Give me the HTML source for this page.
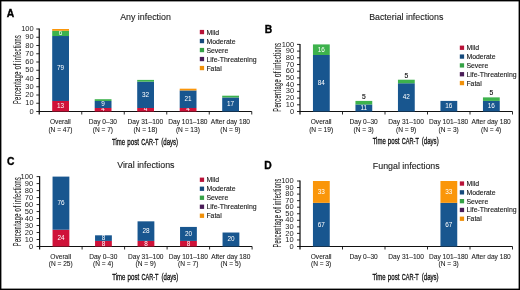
<!DOCTYPE html>
<html><head><meta charset="utf-8"><style>
html,body{margin:0;padding:0;background:#fff;}
body{width:520px;height:290px;overflow:hidden;position:relative;}
svg{position:absolute;left:0;top:0;display:block;font-family:"Liberation Sans", sans-serif;filter:blur(0.3px);}
</style></head><body>
<svg width="520" height="290" viewBox="0 0 520 290">
<rect x="0" y="0" width="520" height="290" fill="#fff"/>
<text x="6.80" y="16.60" font-size="10.3" text-anchor="start" fill="#000" font-weight="bold" stroke="#000" stroke-width="0.35">A</text>
<text x="145.50" y="20.00" font-size="8.85" text-anchor="middle" fill="#1a1a1a" font-weight="normal" stroke="#1a1a1a" stroke-width="0.1">Any infection</text>
<g transform="translate(20.50,69.85) rotate(-90)" font-size="11.0" fill="#222" stroke="#222" stroke-width="0.12"><text x="-34.20" y="0" letter-spacing="0.8" textLength="32.90" lengthAdjust="spacingAndGlyphs">Percentage</text><text x="0.30" y="0" letter-spacing="0.8" textLength="6.40" lengthAdjust="spacingAndGlyphs">of</text><text x="8.10" y="0" letter-spacing="0.8" textLength="26.90" lengthAdjust="spacingAndGlyphs">infections</text></g>
<line x1="36.25" y1="111.50" x2="39.25" y2="111.50" stroke="#111" stroke-width="0.9"/>
<text x="33.65" y="113.60" font-size="7.5" text-anchor="end" fill="#222" font-weight="normal" >0</text>
<line x1="36.25" y1="103.25" x2="39.25" y2="103.25" stroke="#111" stroke-width="0.9"/>
<text x="33.65" y="105.35" font-size="7.5" text-anchor="end" fill="#222" font-weight="normal" >10</text>
<line x1="36.25" y1="95.00" x2="39.25" y2="95.00" stroke="#111" stroke-width="0.9"/>
<text x="33.65" y="97.10" font-size="7.5" text-anchor="end" fill="#222" font-weight="normal" >20</text>
<line x1="36.25" y1="86.75" x2="39.25" y2="86.75" stroke="#111" stroke-width="0.9"/>
<text x="33.65" y="88.85" font-size="7.5" text-anchor="end" fill="#222" font-weight="normal" >30</text>
<line x1="36.25" y1="78.50" x2="39.25" y2="78.50" stroke="#111" stroke-width="0.9"/>
<text x="33.65" y="80.60" font-size="7.5" text-anchor="end" fill="#222" font-weight="normal" >40</text>
<line x1="36.25" y1="70.25" x2="39.25" y2="70.25" stroke="#111" stroke-width="0.9"/>
<text x="33.65" y="72.35" font-size="7.5" text-anchor="end" fill="#222" font-weight="normal" >50</text>
<line x1="36.25" y1="62.00" x2="39.25" y2="62.00" stroke="#111" stroke-width="0.9"/>
<text x="33.65" y="64.10" font-size="7.5" text-anchor="end" fill="#222" font-weight="normal" >60</text>
<line x1="36.25" y1="53.75" x2="39.25" y2="53.75" stroke="#111" stroke-width="0.9"/>
<text x="33.65" y="55.85" font-size="7.5" text-anchor="end" fill="#222" font-weight="normal" >70</text>
<line x1="36.25" y1="45.50" x2="39.25" y2="45.50" stroke="#111" stroke-width="0.9"/>
<text x="33.65" y="47.60" font-size="7.5" text-anchor="end" fill="#222" font-weight="normal" >80</text>
<line x1="36.25" y1="37.25" x2="39.25" y2="37.25" stroke="#111" stroke-width="0.9"/>
<text x="33.65" y="39.35" font-size="7.5" text-anchor="end" fill="#222" font-weight="normal" >90</text>
<line x1="36.25" y1="29.00" x2="39.25" y2="29.00" stroke="#111" stroke-width="0.9"/>
<text x="33.65" y="31.10" font-size="7.5" text-anchor="end" fill="#222" font-weight="normal" >100</text>
<line x1="39.25" y1="28.60" x2="39.25" y2="114.50" stroke="#111" stroke-width="1.25"/>
<line x1="38.75" y1="111.50" x2="251.75" y2="111.50" stroke="#111" stroke-width="1.15"/>
<line x1="81.75" y1="111.50" x2="81.75" y2="114.50" stroke="#111" stroke-width="0.9"/>
<line x1="124.25" y1="111.50" x2="124.25" y2="114.50" stroke="#111" stroke-width="0.9"/>
<line x1="166.75" y1="111.50" x2="166.75" y2="114.50" stroke="#111" stroke-width="0.9"/>
<line x1="209.25" y1="111.50" x2="209.25" y2="114.50" stroke="#111" stroke-width="0.9"/>
<line x1="251.75" y1="111.50" x2="251.75" y2="114.50" stroke="#111" stroke-width="0.9"/>
<rect x="52.20" y="100.97" width="16.8" height="10.53" fill="#cf1239"/>
<text x="60.60" y="108.18" font-size="6.4" text-anchor="middle" fill="#fff" font-weight="normal" >13</text>
<rect x="52.20" y="36.02" width="16.8" height="64.95" fill="#18568f"/>
<text x="60.60" y="70.44" font-size="6.4" text-anchor="middle" fill="#fff" font-weight="normal" >79</text>
<rect x="52.20" y="30.76" width="16.8" height="5.27" fill="#3db24c"/>
<text x="60.60" y="35.34" font-size="6.4" text-anchor="middle" fill="#fff" font-weight="normal" >6</text>
<rect x="52.20" y="29.00" width="16.8" height="1.76" fill="#fa960a"/>
<text x="60.40" y="124.00" font-size="6.6" text-anchor="middle" fill="#1c1c1c" font-weight="normal" stroke="#1c1c1c" stroke-width="0.08">Overall</text>
<text x="60.40" y="131.60" font-size="6.6" text-anchor="middle" fill="#111" font-weight="normal" stroke="#111" stroke-width="0.06">(N = 47)</text>
<rect x="94.70" y="107.99" width="16.8" height="3.51" fill="#cf1239"/>
<text x="103.10" y="110.89" font-size="6.4" text-anchor="middle" fill="#fff" font-weight="normal" >4</text>
<rect x="94.70" y="100.97" width="16.8" height="7.02" fill="#18568f"/>
<text x="103.10" y="106.43" font-size="6.4" text-anchor="middle" fill="#fff" font-weight="normal" >9</text>
<rect x="94.70" y="99.21" width="16.8" height="1.76" fill="#3db24c"/>
<text x="102.90" y="124.00" font-size="6.6" text-anchor="middle" fill="#1c1c1c" font-weight="normal" stroke="#1c1c1c" stroke-width="0.08">Day 0–30</text>
<text x="102.90" y="131.60" font-size="6.6" text-anchor="middle" fill="#111" font-weight="normal" stroke="#111" stroke-width="0.06">(N = 7)</text>
<rect x="137.20" y="107.99" width="16.8" height="3.51" fill="#cf1239"/>
<text x="145.60" y="110.89" font-size="6.4" text-anchor="middle" fill="#fff" font-weight="normal" >4</text>
<rect x="137.20" y="81.66" width="16.8" height="26.33" fill="#18568f"/>
<text x="145.60" y="96.77" font-size="6.4" text-anchor="middle" fill="#fff" font-weight="normal" >32</text>
<rect x="137.20" y="79.90" width="16.8" height="1.76" fill="#3db24c"/>
<text x="145.40" y="124.00" font-size="6.6" text-anchor="middle" fill="#1c1c1c" font-weight="normal" stroke="#1c1c1c" stroke-width="0.08">Day 31–100</text>
<text x="145.40" y="131.60" font-size="6.6" text-anchor="middle" fill="#111" font-weight="normal" stroke="#111" stroke-width="0.06">(N = 18)</text>
<rect x="179.70" y="107.99" width="16.8" height="3.51" fill="#cf1239"/>
<text x="188.10" y="110.89" font-size="6.4" text-anchor="middle" fill="#fff" font-weight="normal" >4</text>
<rect x="179.70" y="90.44" width="16.8" height="17.55" fill="#18568f"/>
<text x="188.10" y="101.16" font-size="6.4" text-anchor="middle" fill="#fff" font-weight="normal" >21</text>
<rect x="179.70" y="88.68" width="16.8" height="1.76" fill="#fa960a"/>
<text x="187.90" y="124.00" font-size="6.6" text-anchor="middle" fill="#1c1c1c" font-weight="normal" stroke="#1c1c1c" stroke-width="0.08">Day 101–180</text>
<text x="187.90" y="131.60" font-size="6.6" text-anchor="middle" fill="#111" font-weight="normal" stroke="#111" stroke-width="0.06">(N = 13)</text>
<rect x="222.20" y="97.46" width="16.8" height="14.04" fill="#18568f"/>
<text x="230.60" y="106.43" font-size="6.4" text-anchor="middle" fill="#fff" font-weight="normal" >17</text>
<rect x="222.20" y="95.70" width="16.8" height="1.76" fill="#3db24c"/>
<text x="230.40" y="124.00" font-size="6.6" text-anchor="middle" fill="#1c1c1c" font-weight="normal" stroke="#1c1c1c" stroke-width="0.08">After day 180</text>
<text x="230.40" y="131.60" font-size="6.6" text-anchor="middle" fill="#111" font-weight="normal" stroke="#111" stroke-width="0.06">(N = 9)</text>
<g font-size="9.6" fill="#111" stroke="#111" stroke-width="0.32"><text x="112.10" y="144.65" textLength="13.10" lengthAdjust="spacingAndGlyphs">Time</text><text x="127.30" y="144.65" textLength="11.70" lengthAdjust="spacingAndGlyphs">post</text><text x="141.30" y="144.65" textLength="17.00" lengthAdjust="spacingAndGlyphs">CAR-T</text><text x="161.30" y="144.65" textLength="16.80" lengthAdjust="spacingAndGlyphs">(days)</text></g>
<rect x="199.80" y="29.90" width="4.3" height="4.3" fill="#b81238"/>
<text x="206.40" y="34.50" font-size="6.9" text-anchor="start" fill="#1a1a1a" font-weight="normal" stroke="#1a1a1a" stroke-width="0.12">Mild</text>
<rect x="199.80" y="38.90" width="4.3" height="4.3" fill="#154a7c"/>
<text x="206.40" y="43.50" font-size="6.9" text-anchor="start" fill="#1a1a1a" font-weight="normal" stroke="#1a1a1a" stroke-width="0.12">Moderate</text>
<rect x="199.80" y="47.90" width="4.3" height="4.3" fill="#35a246"/>
<text x="206.40" y="52.50" font-size="6.9" text-anchor="start" fill="#1a1a1a" font-weight="normal" stroke="#1a1a1a" stroke-width="0.12">Severe</text>
<rect x="199.80" y="56.90" width="4.3" height="4.3" fill="#4a1c58"/>
<text x="206.40" y="61.50" font-size="6.9" text-anchor="start" fill="#1a1a1a" font-weight="normal" stroke="#1a1a1a" stroke-width="0.12">Life-Threatening</text>
<rect x="199.80" y="65.90" width="4.3" height="4.3" fill="#f0900a"/>
<text x="206.40" y="70.50" font-size="6.9" text-anchor="start" fill="#1a1a1a" font-weight="normal" stroke="#1a1a1a" stroke-width="0.12">Fatal</text>
<text x="264.80" y="32.50" font-size="10.3" text-anchor="start" fill="#000" font-weight="bold" stroke="#000" stroke-width="0.35">B</text>
<text x="406.25" y="20.20" font-size="8.85" text-anchor="middle" fill="#1a1a1a" font-weight="normal" stroke="#1a1a1a" stroke-width="0.1">Bacterial infections</text>
<g transform="translate(281.00,77.55) rotate(-90)" font-size="11.0" fill="#222" stroke="#222" stroke-width="0.12"><text x="-34.20" y="0" letter-spacing="0.8" textLength="32.90" lengthAdjust="spacingAndGlyphs">Percentage</text><text x="0.30" y="0" letter-spacing="0.8" textLength="6.40" lengthAdjust="spacingAndGlyphs">of</text><text x="8.10" y="0" letter-spacing="0.8" textLength="26.90" lengthAdjust="spacingAndGlyphs">infections</text></g>
<line x1="297.00" y1="111.50" x2="300.00" y2="111.50" stroke="#111" stroke-width="0.9"/>
<text x="294.20" y="113.60" font-size="7.5" text-anchor="end" fill="#222" font-weight="normal" >0</text>
<line x1="297.00" y1="104.79" x2="300.00" y2="104.79" stroke="#111" stroke-width="0.9"/>
<text x="294.20" y="106.89" font-size="7.5" text-anchor="end" fill="#222" font-weight="normal" >10</text>
<line x1="297.00" y1="98.08" x2="300.00" y2="98.08" stroke="#111" stroke-width="0.9"/>
<text x="294.20" y="100.18" font-size="7.5" text-anchor="end" fill="#222" font-weight="normal" >20</text>
<line x1="297.00" y1="91.37" x2="300.00" y2="91.37" stroke="#111" stroke-width="0.9"/>
<text x="294.20" y="93.47" font-size="7.5" text-anchor="end" fill="#222" font-weight="normal" >30</text>
<line x1="297.00" y1="84.66" x2="300.00" y2="84.66" stroke="#111" stroke-width="0.9"/>
<text x="294.20" y="86.76" font-size="7.5" text-anchor="end" fill="#222" font-weight="normal" >40</text>
<line x1="297.00" y1="77.95" x2="300.00" y2="77.95" stroke="#111" stroke-width="0.9"/>
<text x="294.20" y="80.05" font-size="7.5" text-anchor="end" fill="#222" font-weight="normal" >50</text>
<line x1="297.00" y1="71.24" x2="300.00" y2="71.24" stroke="#111" stroke-width="0.9"/>
<text x="294.20" y="73.34" font-size="7.5" text-anchor="end" fill="#222" font-weight="normal" >60</text>
<line x1="297.00" y1="64.53" x2="300.00" y2="64.53" stroke="#111" stroke-width="0.9"/>
<text x="294.20" y="66.63" font-size="7.5" text-anchor="end" fill="#222" font-weight="normal" >70</text>
<line x1="297.00" y1="57.82" x2="300.00" y2="57.82" stroke="#111" stroke-width="0.9"/>
<text x="294.20" y="59.92" font-size="7.5" text-anchor="end" fill="#222" font-weight="normal" >80</text>
<line x1="297.00" y1="51.11" x2="300.00" y2="51.11" stroke="#111" stroke-width="0.9"/>
<text x="294.20" y="53.21" font-size="7.5" text-anchor="end" fill="#222" font-weight="normal" >90</text>
<line x1="297.00" y1="44.40" x2="300.00" y2="44.40" stroke="#111" stroke-width="0.9"/>
<text x="294.20" y="46.50" font-size="7.5" text-anchor="end" fill="#222" font-weight="normal" >100</text>
<line x1="300.00" y1="44.00" x2="300.00" y2="114.50" stroke="#111" stroke-width="1.25"/>
<line x1="299.50" y1="111.50" x2="512.50" y2="111.50" stroke="#111" stroke-width="1.15"/>
<line x1="342.50" y1="111.50" x2="342.50" y2="114.50" stroke="#111" stroke-width="0.9"/>
<line x1="385.00" y1="111.50" x2="385.00" y2="114.50" stroke="#111" stroke-width="0.9"/>
<line x1="427.50" y1="111.50" x2="427.50" y2="114.50" stroke="#111" stroke-width="0.9"/>
<line x1="470.00" y1="111.50" x2="470.00" y2="114.50" stroke="#111" stroke-width="0.9"/>
<line x1="512.50" y1="111.50" x2="512.50" y2="114.50" stroke="#111" stroke-width="0.9"/>
<rect x="312.95" y="54.99" width="16.8" height="56.51" fill="#18568f"/>
<text x="321.35" y="85.20" font-size="6.4" text-anchor="middle" fill="#fff" font-weight="normal" >84</text>
<rect x="312.95" y="44.40" width="16.8" height="10.59" fill="#3db24c"/>
<text x="321.35" y="51.65" font-size="6.4" text-anchor="middle" fill="#fff" font-weight="normal" >16</text>
<text x="321.15" y="124.30" font-size="6.6" text-anchor="middle" fill="#1c1c1c" font-weight="normal" stroke="#1c1c1c" stroke-width="0.08">Overall</text>
<text x="321.15" y="131.80" font-size="6.6" text-anchor="middle" fill="#111" font-weight="normal" stroke="#111" stroke-width="0.06">(N = 19)</text>
<rect x="355.45" y="104.44" width="16.8" height="7.06" fill="#18568f"/>
<text x="363.85" y="109.92" font-size="6.4" text-anchor="middle" fill="#fff" font-weight="normal" >11</text>
<rect x="355.45" y="100.91" width="16.8" height="3.53" fill="#3db24c"/>
<text x="363.85" y="98.71" font-size="6.7" text-anchor="middle" fill="#111" font-weight="normal" stroke="#111" stroke-width="0.15">5</text>
<text x="363.65" y="124.30" font-size="6.6" text-anchor="middle" fill="#1c1c1c" font-weight="normal" stroke="#1c1c1c" stroke-width="0.08">Day 0–30</text>
<text x="363.65" y="131.80" font-size="6.6" text-anchor="middle" fill="#111" font-weight="normal" stroke="#111" stroke-width="0.06">(N = 3)</text>
<rect x="397.95" y="83.25" width="16.8" height="28.25" fill="#18568f"/>
<text x="406.35" y="99.32" font-size="6.4" text-anchor="middle" fill="#fff" font-weight="normal" >42</text>
<rect x="397.95" y="79.72" width="16.8" height="3.53" fill="#3db24c"/>
<text x="406.35" y="77.52" font-size="6.7" text-anchor="middle" fill="#111" font-weight="normal" stroke="#111" stroke-width="0.15">5</text>
<text x="406.15" y="124.30" font-size="6.6" text-anchor="middle" fill="#1c1c1c" font-weight="normal" stroke="#1c1c1c" stroke-width="0.08">Day 31–100</text>
<text x="406.15" y="131.80" font-size="6.6" text-anchor="middle" fill="#111" font-weight="normal" stroke="#111" stroke-width="0.06">(N = 9)</text>
<rect x="440.45" y="100.91" width="16.8" height="10.59" fill="#18568f"/>
<text x="448.85" y="108.15" font-size="6.4" text-anchor="middle" fill="#fff" font-weight="normal" >16</text>
<text x="448.65" y="124.30" font-size="6.6" text-anchor="middle" fill="#1c1c1c" font-weight="normal" stroke="#1c1c1c" stroke-width="0.08">Day 101–180</text>
<text x="448.65" y="131.80" font-size="6.6" text-anchor="middle" fill="#111" font-weight="normal" stroke="#111" stroke-width="0.06">(N = 3)</text>
<rect x="482.95" y="100.91" width="16.8" height="10.59" fill="#18568f"/>
<text x="491.35" y="108.15" font-size="6.4" text-anchor="middle" fill="#fff" font-weight="normal" >16</text>
<rect x="482.95" y="97.37" width="16.8" height="3.53" fill="#3db24c"/>
<text x="491.35" y="95.17" font-size="6.7" text-anchor="middle" fill="#111" font-weight="normal" stroke="#111" stroke-width="0.15">5</text>
<text x="491.15" y="124.30" font-size="6.6" text-anchor="middle" fill="#1c1c1c" font-weight="normal" stroke="#1c1c1c" stroke-width="0.08">After day 180</text>
<text x="491.15" y="131.80" font-size="6.6" text-anchor="middle" fill="#111" font-weight="normal" stroke="#111" stroke-width="0.06">(N = 4)</text>
<g font-size="9.6" fill="#111" stroke="#111" stroke-width="0.32"><text x="372.65" y="143.75" textLength="13.10" lengthAdjust="spacingAndGlyphs">Time</text><text x="387.85" y="143.75" textLength="11.70" lengthAdjust="spacingAndGlyphs">post</text><text x="401.85" y="143.75" textLength="17.00" lengthAdjust="spacingAndGlyphs">CAR-T</text><text x="421.85" y="143.75" textLength="16.80" lengthAdjust="spacingAndGlyphs">(days)</text></g>
<rect x="459.80" y="45.60" width="4.3" height="4.3" fill="#b81238"/>
<text x="466.40" y="50.20" font-size="6.9" text-anchor="start" fill="#1a1a1a" font-weight="normal" stroke="#1a1a1a" stroke-width="0.12">Mild</text>
<rect x="459.80" y="54.43" width="4.3" height="4.3" fill="#154a7c"/>
<text x="466.40" y="59.03" font-size="6.9" text-anchor="start" fill="#1a1a1a" font-weight="normal" stroke="#1a1a1a" stroke-width="0.12">Moderate</text>
<rect x="459.80" y="63.26" width="4.3" height="4.3" fill="#35a246"/>
<text x="466.40" y="67.86" font-size="6.9" text-anchor="start" fill="#1a1a1a" font-weight="normal" stroke="#1a1a1a" stroke-width="0.12">Severe</text>
<rect x="459.80" y="72.09" width="4.3" height="4.3" fill="#4a1c58"/>
<text x="466.40" y="76.69" font-size="6.9" text-anchor="start" fill="#1a1a1a" font-weight="normal" stroke="#1a1a1a" stroke-width="0.12">Life-Threatening</text>
<rect x="459.80" y="80.92" width="4.3" height="4.3" fill="#f0900a"/>
<text x="466.40" y="85.52" font-size="6.9" text-anchor="start" fill="#1a1a1a" font-weight="normal" stroke="#1a1a1a" stroke-width="0.12">Fatal</text>
<text x="7.00" y="165.30" font-size="10.3" text-anchor="start" fill="#000" font-weight="bold" stroke="#000" stroke-width="0.35">C</text>
<text x="145.85" y="168.10" font-size="8.85" text-anchor="middle" fill="#1a1a1a" font-weight="normal" stroke="#1a1a1a" stroke-width="0.1">Viral infections</text>
<g transform="translate(20.50,211.95) rotate(-90)" font-size="11.0" fill="#222" stroke="#222" stroke-width="0.12"><text x="-34.20" y="0" letter-spacing="0.8" textLength="32.90" lengthAdjust="spacingAndGlyphs">Percentage</text><text x="0.30" y="0" letter-spacing="0.8" textLength="6.40" lengthAdjust="spacingAndGlyphs">of</text><text x="8.10" y="0" letter-spacing="0.8" textLength="26.90" lengthAdjust="spacingAndGlyphs">infections</text></g>
<line x1="36.60" y1="246.50" x2="39.60" y2="246.50" stroke="#111" stroke-width="0.9"/>
<text x="33.10" y="248.60" font-size="7.5" text-anchor="end" fill="#222" font-weight="normal" >0</text>
<line x1="36.60" y1="239.51" x2="39.60" y2="239.51" stroke="#111" stroke-width="0.9"/>
<text x="33.10" y="241.61" font-size="7.5" text-anchor="end" fill="#222" font-weight="normal" >10</text>
<line x1="36.60" y1="232.52" x2="39.60" y2="232.52" stroke="#111" stroke-width="0.9"/>
<text x="33.10" y="234.62" font-size="7.5" text-anchor="end" fill="#222" font-weight="normal" >20</text>
<line x1="36.60" y1="225.53" x2="39.60" y2="225.53" stroke="#111" stroke-width="0.9"/>
<text x="33.10" y="227.63" font-size="7.5" text-anchor="end" fill="#222" font-weight="normal" >30</text>
<line x1="36.60" y1="218.54" x2="39.60" y2="218.54" stroke="#111" stroke-width="0.9"/>
<text x="33.10" y="220.64" font-size="7.5" text-anchor="end" fill="#222" font-weight="normal" >40</text>
<line x1="36.60" y1="211.55" x2="39.60" y2="211.55" stroke="#111" stroke-width="0.9"/>
<text x="33.10" y="213.65" font-size="7.5" text-anchor="end" fill="#222" font-weight="normal" >50</text>
<line x1="36.60" y1="204.56" x2="39.60" y2="204.56" stroke="#111" stroke-width="0.9"/>
<text x="33.10" y="206.66" font-size="7.5" text-anchor="end" fill="#222" font-weight="normal" >60</text>
<line x1="36.60" y1="197.57" x2="39.60" y2="197.57" stroke="#111" stroke-width="0.9"/>
<text x="33.10" y="199.67" font-size="7.5" text-anchor="end" fill="#222" font-weight="normal" >70</text>
<line x1="36.60" y1="190.58" x2="39.60" y2="190.58" stroke="#111" stroke-width="0.9"/>
<text x="33.10" y="192.68" font-size="7.5" text-anchor="end" fill="#222" font-weight="normal" >80</text>
<line x1="36.60" y1="183.59" x2="39.60" y2="183.59" stroke="#111" stroke-width="0.9"/>
<text x="33.10" y="185.69" font-size="7.5" text-anchor="end" fill="#222" font-weight="normal" >90</text>
<line x1="36.60" y1="176.60" x2="39.60" y2="176.60" stroke="#111" stroke-width="0.9"/>
<text x="33.10" y="178.70" font-size="7.5" text-anchor="end" fill="#222" font-weight="normal" >100</text>
<line x1="39.60" y1="176.20" x2="39.60" y2="249.50" stroke="#111" stroke-width="1.25"/>
<line x1="39.10" y1="246.50" x2="252.10" y2="246.50" stroke="#111" stroke-width="1.15"/>
<line x1="82.10" y1="246.50" x2="82.10" y2="249.50" stroke="#111" stroke-width="0.9"/>
<line x1="124.60" y1="246.50" x2="124.60" y2="249.50" stroke="#111" stroke-width="0.9"/>
<line x1="167.10" y1="246.50" x2="167.10" y2="249.50" stroke="#111" stroke-width="0.9"/>
<line x1="209.60" y1="246.50" x2="209.60" y2="249.50" stroke="#111" stroke-width="0.9"/>
<line x1="252.10" y1="246.50" x2="252.10" y2="249.50" stroke="#111" stroke-width="0.9"/>
<rect x="52.55" y="229.72" width="16.8" height="16.78" fill="#cf1239"/>
<text x="60.95" y="240.06" font-size="6.4" text-anchor="middle" fill="#fff" font-weight="normal" >24</text>
<rect x="52.55" y="176.60" width="16.8" height="53.12" fill="#18568f"/>
<text x="60.95" y="205.11" font-size="6.4" text-anchor="middle" fill="#fff" font-weight="normal" >76</text>
<text x="60.75" y="258.60" font-size="6.6" text-anchor="middle" fill="#1c1c1c" font-weight="normal" stroke="#1c1c1c" stroke-width="0.08">Overall</text>
<text x="60.75" y="266.20" font-size="6.6" text-anchor="middle" fill="#111" font-weight="normal" stroke="#111" stroke-width="0.06">(N = 25)</text>
<rect x="95.05" y="240.91" width="16.8" height="5.59" fill="#cf1239"/>
<text x="103.45" y="245.65" font-size="6.4" text-anchor="middle" fill="#fff" font-weight="normal" >8</text>
<rect x="95.05" y="235.32" width="16.8" height="5.59" fill="#18568f"/>
<text x="103.45" y="240.06" font-size="6.4" text-anchor="middle" fill="#fff" font-weight="normal" >8</text>
<text x="103.25" y="258.60" font-size="6.6" text-anchor="middle" fill="#1c1c1c" font-weight="normal" stroke="#1c1c1c" stroke-width="0.08">Day 0–30</text>
<text x="103.25" y="266.20" font-size="6.6" text-anchor="middle" fill="#111" font-weight="normal" stroke="#111" stroke-width="0.06">(N = 4)</text>
<rect x="137.55" y="240.91" width="16.8" height="5.59" fill="#cf1239"/>
<text x="145.95" y="245.65" font-size="6.4" text-anchor="middle" fill="#fff" font-weight="normal" >8</text>
<rect x="137.55" y="221.34" width="16.8" height="19.57" fill="#18568f"/>
<text x="145.95" y="233.07" font-size="6.4" text-anchor="middle" fill="#fff" font-weight="normal" >28</text>
<text x="145.75" y="258.60" font-size="6.6" text-anchor="middle" fill="#1c1c1c" font-weight="normal" stroke="#1c1c1c" stroke-width="0.08">Day 31–100</text>
<text x="145.75" y="266.20" font-size="6.6" text-anchor="middle" fill="#111" font-weight="normal" stroke="#111" stroke-width="0.06">(N = 9)</text>
<rect x="180.05" y="240.91" width="16.8" height="5.59" fill="#cf1239"/>
<text x="188.45" y="245.65" font-size="6.4" text-anchor="middle" fill="#fff" font-weight="normal" >8</text>
<rect x="180.05" y="226.93" width="16.8" height="13.98" fill="#18568f"/>
<text x="188.45" y="235.87" font-size="6.4" text-anchor="middle" fill="#fff" font-weight="normal" >20</text>
<text x="188.25" y="258.60" font-size="6.6" text-anchor="middle" fill="#1c1c1c" font-weight="normal" stroke="#1c1c1c" stroke-width="0.08">Day 101–180</text>
<text x="188.25" y="266.20" font-size="6.6" text-anchor="middle" fill="#111" font-weight="normal" stroke="#111" stroke-width="0.06">(N = 7)</text>
<rect x="222.55" y="232.52" width="16.8" height="13.98" fill="#18568f"/>
<text x="230.95" y="241.46" font-size="6.4" text-anchor="middle" fill="#fff" font-weight="normal" >20</text>
<text x="230.75" y="258.60" font-size="6.6" text-anchor="middle" fill="#1c1c1c" font-weight="normal" stroke="#1c1c1c" stroke-width="0.08">After day 180</text>
<text x="230.75" y="266.20" font-size="6.6" text-anchor="middle" fill="#111" font-weight="normal" stroke="#111" stroke-width="0.06">(N = 5)</text>
<g font-size="9.6" fill="#111" stroke="#111" stroke-width="0.32"><text x="112.30" y="279.85" textLength="13.10" lengthAdjust="spacingAndGlyphs">Time</text><text x="127.50" y="279.85" textLength="11.70" lengthAdjust="spacingAndGlyphs">post</text><text x="141.50" y="279.85" textLength="17.00" lengthAdjust="spacingAndGlyphs">CAR-T</text><text x="161.50" y="279.85" textLength="16.80" lengthAdjust="spacingAndGlyphs">(days)</text></g>
<rect x="199.80" y="177.60" width="4.3" height="4.3" fill="#b81238"/>
<text x="206.40" y="182.20" font-size="6.9" text-anchor="start" fill="#1a1a1a" font-weight="normal" stroke="#1a1a1a" stroke-width="0.12">Mild</text>
<rect x="199.80" y="186.60" width="4.3" height="4.3" fill="#154a7c"/>
<text x="206.40" y="191.20" font-size="6.9" text-anchor="start" fill="#1a1a1a" font-weight="normal" stroke="#1a1a1a" stroke-width="0.12">Moderate</text>
<rect x="199.80" y="195.60" width="4.3" height="4.3" fill="#35a246"/>
<text x="206.40" y="200.20" font-size="6.9" text-anchor="start" fill="#1a1a1a" font-weight="normal" stroke="#1a1a1a" stroke-width="0.12">Severe</text>
<rect x="199.80" y="204.60" width="4.3" height="4.3" fill="#4a1c58"/>
<text x="206.40" y="209.20" font-size="6.9" text-anchor="start" fill="#1a1a1a" font-weight="normal" stroke="#1a1a1a" stroke-width="0.12">Life-Threatening</text>
<rect x="199.80" y="213.60" width="4.3" height="4.3" fill="#f0900a"/>
<text x="206.40" y="218.20" font-size="6.9" text-anchor="start" fill="#1a1a1a" font-weight="normal" stroke="#1a1a1a" stroke-width="0.12">Fatal</text>
<text x="264.20" y="168.50" font-size="10.3" text-anchor="start" fill="#000" font-weight="bold" stroke="#000" stroke-width="0.35">D</text>
<text x="406.25" y="168.50" font-size="8.85" text-anchor="middle" fill="#1a1a1a" font-weight="normal" stroke="#1a1a1a" stroke-width="0.1">Fungal infections</text>
<g transform="translate(280.50,213.35) rotate(-90)" font-size="11.0" fill="#222" stroke="#222" stroke-width="0.12"><text x="-34.20" y="0" letter-spacing="0.8" textLength="32.90" lengthAdjust="spacingAndGlyphs">Percentage</text><text x="0.30" y="0" letter-spacing="0.8" textLength="6.40" lengthAdjust="spacingAndGlyphs">of</text><text x="8.10" y="0" letter-spacing="0.8" textLength="26.90" lengthAdjust="spacingAndGlyphs">infections</text></g>
<line x1="297.00" y1="246.50" x2="300.00" y2="246.50" stroke="#111" stroke-width="0.9"/>
<text x="293.70" y="248.60" font-size="7.5" text-anchor="end" fill="#222" font-weight="normal" >0</text>
<line x1="297.00" y1="239.95" x2="300.00" y2="239.95" stroke="#111" stroke-width="0.9"/>
<text x="293.70" y="242.05" font-size="7.5" text-anchor="end" fill="#222" font-weight="normal" >10</text>
<line x1="297.00" y1="233.40" x2="300.00" y2="233.40" stroke="#111" stroke-width="0.9"/>
<text x="293.70" y="235.50" font-size="7.5" text-anchor="end" fill="#222" font-weight="normal" >20</text>
<line x1="297.00" y1="226.85" x2="300.00" y2="226.85" stroke="#111" stroke-width="0.9"/>
<text x="293.70" y="228.95" font-size="7.5" text-anchor="end" fill="#222" font-weight="normal" >30</text>
<line x1="297.00" y1="220.30" x2="300.00" y2="220.30" stroke="#111" stroke-width="0.9"/>
<text x="293.70" y="222.40" font-size="7.5" text-anchor="end" fill="#222" font-weight="normal" >40</text>
<line x1="297.00" y1="213.75" x2="300.00" y2="213.75" stroke="#111" stroke-width="0.9"/>
<text x="293.70" y="215.85" font-size="7.5" text-anchor="end" fill="#222" font-weight="normal" >50</text>
<line x1="297.00" y1="207.20" x2="300.00" y2="207.20" stroke="#111" stroke-width="0.9"/>
<text x="293.70" y="209.30" font-size="7.5" text-anchor="end" fill="#222" font-weight="normal" >60</text>
<line x1="297.00" y1="200.65" x2="300.00" y2="200.65" stroke="#111" stroke-width="0.9"/>
<text x="293.70" y="202.75" font-size="7.5" text-anchor="end" fill="#222" font-weight="normal" >70</text>
<line x1="297.00" y1="194.10" x2="300.00" y2="194.10" stroke="#111" stroke-width="0.9"/>
<text x="293.70" y="196.20" font-size="7.5" text-anchor="end" fill="#222" font-weight="normal" >80</text>
<line x1="297.00" y1="187.55" x2="300.00" y2="187.55" stroke="#111" stroke-width="0.9"/>
<text x="293.70" y="189.65" font-size="7.5" text-anchor="end" fill="#222" font-weight="normal" >90</text>
<line x1="297.00" y1="181.00" x2="300.00" y2="181.00" stroke="#111" stroke-width="0.9"/>
<text x="293.70" y="183.10" font-size="7.5" text-anchor="end" fill="#222" font-weight="normal" >100</text>
<line x1="300.00" y1="180.60" x2="300.00" y2="249.50" stroke="#111" stroke-width="1.25"/>
<line x1="299.50" y1="246.50" x2="512.50" y2="246.50" stroke="#111" stroke-width="1.15"/>
<line x1="342.50" y1="246.50" x2="342.50" y2="249.50" stroke="#111" stroke-width="0.9"/>
<line x1="385.00" y1="246.50" x2="385.00" y2="249.50" stroke="#111" stroke-width="0.9"/>
<line x1="427.50" y1="246.50" x2="427.50" y2="249.50" stroke="#111" stroke-width="0.9"/>
<line x1="470.00" y1="246.50" x2="470.00" y2="249.50" stroke="#111" stroke-width="0.9"/>
<line x1="512.50" y1="246.50" x2="512.50" y2="249.50" stroke="#111" stroke-width="0.9"/>
<rect x="312.95" y="202.83" width="16.8" height="43.67" fill="#18568f"/>
<text x="321.35" y="226.62" font-size="6.4" text-anchor="middle" fill="#fff" font-weight="normal" >67</text>
<rect x="312.95" y="181.00" width="16.8" height="21.83" fill="#fa960a"/>
<text x="321.35" y="193.87" font-size="6.4" text-anchor="middle" fill="#fff" font-weight="normal" >33</text>
<text x="321.15" y="258.50" font-size="6.6" text-anchor="middle" fill="#1c1c1c" font-weight="normal" stroke="#1c1c1c" stroke-width="0.08">Overall</text>
<text x="321.15" y="266.20" font-size="6.6" text-anchor="middle" fill="#111" font-weight="normal" stroke="#111" stroke-width="0.06">(N = 3)</text>
<text x="363.65" y="258.50" font-size="6.6" text-anchor="middle" fill="#1c1c1c" font-weight="normal" stroke="#1c1c1c" stroke-width="0.08">Day 0–30</text>
<text x="406.15" y="258.50" font-size="6.6" text-anchor="middle" fill="#1c1c1c" font-weight="normal" stroke="#1c1c1c" stroke-width="0.08">Day 31–100</text>
<rect x="440.45" y="202.83" width="16.8" height="43.67" fill="#18568f"/>
<text x="448.85" y="226.62" font-size="6.4" text-anchor="middle" fill="#fff" font-weight="normal" >67</text>
<rect x="440.45" y="181.00" width="16.8" height="21.83" fill="#fa960a"/>
<text x="448.85" y="193.87" font-size="6.4" text-anchor="middle" fill="#fff" font-weight="normal" >33</text>
<text x="448.65" y="258.50" font-size="6.6" text-anchor="middle" fill="#1c1c1c" font-weight="normal" stroke="#1c1c1c" stroke-width="0.08">Day 101–180</text>
<text x="448.65" y="266.20" font-size="6.6" text-anchor="middle" fill="#111" font-weight="normal" stroke="#111" stroke-width="0.06">(N = 3)</text>
<text x="491.15" y="258.50" font-size="6.6" text-anchor="middle" fill="#1c1c1c" font-weight="normal" stroke="#1c1c1c" stroke-width="0.08">After day 180</text>
<g font-size="9.6" fill="#111" stroke="#111" stroke-width="0.32"><text x="372.55" y="280.05" textLength="13.10" lengthAdjust="spacingAndGlyphs">Time</text><text x="387.75" y="280.05" textLength="11.70" lengthAdjust="spacingAndGlyphs">post</text><text x="401.75" y="280.05" textLength="17.00" lengthAdjust="spacingAndGlyphs">CAR-T</text><text x="421.75" y="280.05" textLength="16.80" lengthAdjust="spacingAndGlyphs">(days)</text></g>
<rect x="459.80" y="181.40" width="4.3" height="4.3" fill="#b81238"/>
<text x="466.40" y="186.00" font-size="6.9" text-anchor="start" fill="#1a1a1a" font-weight="normal" stroke="#1a1a1a" stroke-width="0.12">Mild</text>
<rect x="459.80" y="190.20" width="4.3" height="4.3" fill="#154a7c"/>
<text x="466.40" y="194.80" font-size="6.9" text-anchor="start" fill="#1a1a1a" font-weight="normal" stroke="#1a1a1a" stroke-width="0.12">Moderate</text>
<rect x="459.80" y="199.00" width="4.3" height="4.3" fill="#35a246"/>
<text x="466.40" y="203.60" font-size="6.9" text-anchor="start" fill="#1a1a1a" font-weight="normal" stroke="#1a1a1a" stroke-width="0.12">Severe</text>
<rect x="459.80" y="207.80" width="4.3" height="4.3" fill="#4a1c58"/>
<text x="466.40" y="212.40" font-size="6.9" text-anchor="start" fill="#1a1a1a" font-weight="normal" stroke="#1a1a1a" stroke-width="0.12">Life-Threatening</text>
<rect x="459.80" y="216.60" width="4.3" height="4.3" fill="#f0900a"/>
<text x="466.40" y="221.20" font-size="6.9" text-anchor="start" fill="#1a1a1a" font-weight="normal" stroke="#1a1a1a" stroke-width="0.12">Fatal</text>
<rect x="0.7" y="0.7" width="518.6" height="288.6" fill="none" stroke="#000" stroke-width="1.4"/>
</svg>
</body></html>
